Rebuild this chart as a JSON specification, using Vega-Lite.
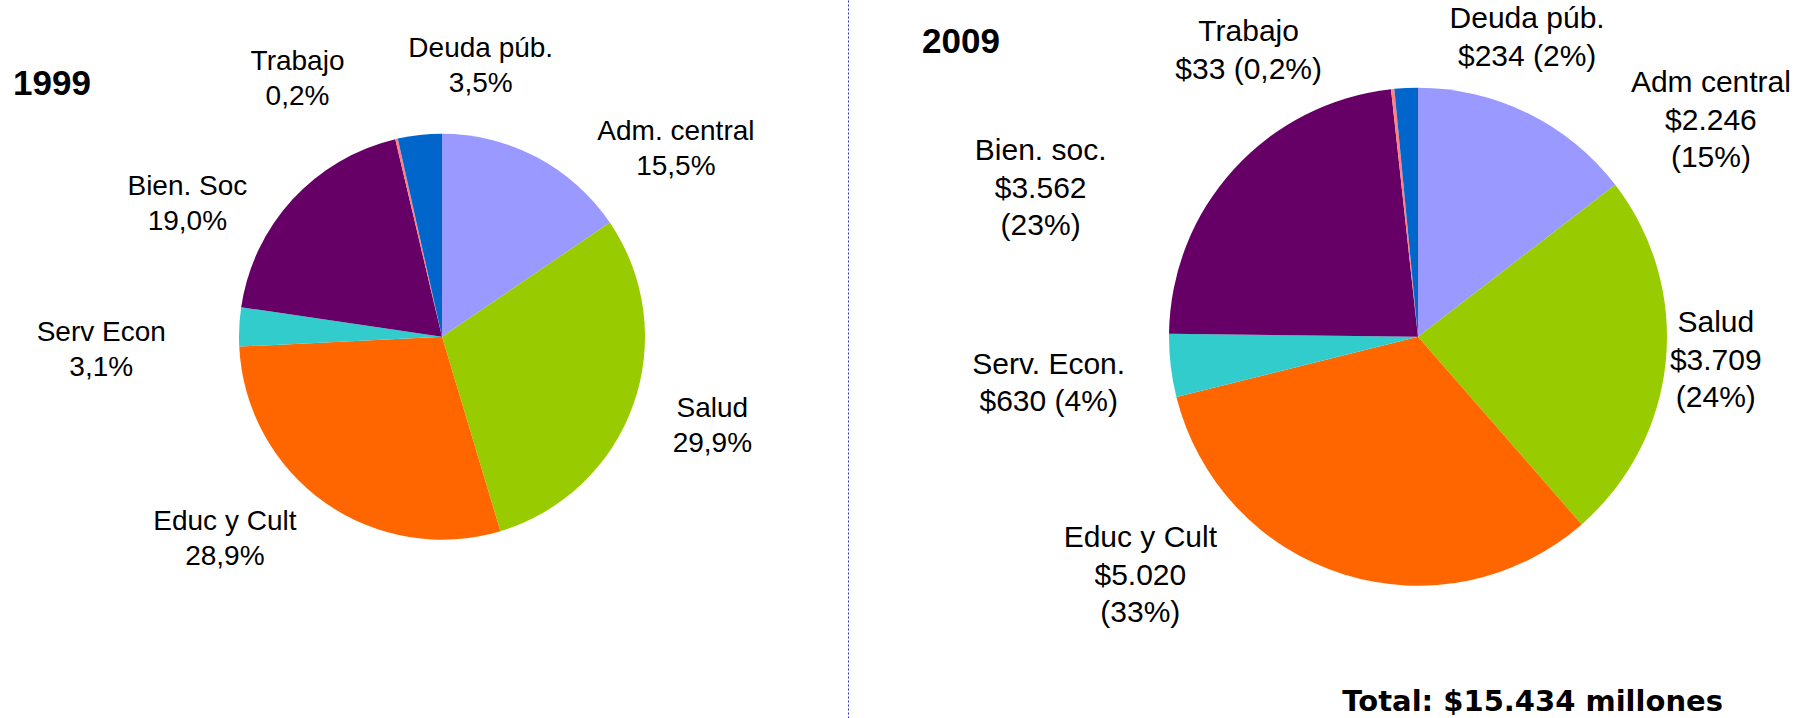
{
  "$schema": "https://vega.github.io/schema/vega-lite/v6.json",
  "width": 1800,
  "height": 718,
  "autosize": {"type": "none"},
  "padding": 0,
  "background": "white",
  "config": {"view": {"stroke": null}},
  "title": {"text": "Total: $15.434 millones", "orient": "bottom", "anchor": "end", "frame": "group", "font": "DejaVu Sans", "fontSize": 29, "fontWeight": "bold", "color": "black", "baseline": "alphabetic", "offset": -7, "dx": -77},
  "data": {"values": [
    {"year": "1999", "cat": "adm", "o": 1, "value": 15.5, "label": "Adm. central\n15,5%"},
    {"year": "1999", "cat": "salud", "o": 2, "value": 29.9, "label": "Salud\n29,9%"},
    {"year": "1999", "cat": "educ", "o": 3, "value": 28.9, "label": "Educ y Cult\n28,9%"},
    {"year": "1999", "cat": "serv", "o": 4, "value": 3.1, "label": "Serv Econ\n3,1%"},
    {"year": "1999", "cat": "bien", "o": 5, "value": 19.0, "label": "Bien. Soc\n19,0%"},
    {"year": "1999", "cat": "trab", "o": 6, "value": 0.2, "label": "Trabajo\n0,2%"},
    {"year": "1999", "cat": "deuda", "o": 7, "value": 3.5, "label": "Deuda púb.\n3,5%"},
    {"year": "2009", "cat": "adm", "o": 1, "value": 2246, "label": "Adm central\n$2.246\n(15%)"},
    {"year": "2009", "cat": "salud", "o": 2, "value": 3709, "label": "Salud\n$3.709\n(24%)"},
    {"year": "2009", "cat": "educ", "o": 3, "value": 5020, "label": "Educ y Cult\n$5.020\n(33%)"},
    {"year": "2009", "cat": "serv", "o": 4, "value": 630, "label": "Serv. Econ.\n$630 (4%)"},
    {"year": "2009", "cat": "bien", "o": 5, "value": 3562, "label": "Bien. soc.\n$3.562\n(23%)"},
    {"year": "2009", "cat": "trab", "o": 6, "value": 33, "label": "Trabajo\n$33 (0,2%)"},
    {"year": "2009", "cat": "deuda", "o": 7, "value": 234, "label": "Deuda púb.\n$234 (2%)"}
  ]},
  "encoding": {
    "x": {"field": "year", "type": "nominal",
          "scale": {"type": "band", "domain": ["1999", "2009"], "range": [36, 1824], "paddingInner": 0.16803, "paddingOuter": 0},
          "axis": {"values": ["1999"], "bandPosition": 1, "grid": true, "gridColor": "#2b2bcc", "gridDash": [2, 2], "gridWidth": 1, "domain": false, "ticks": false, "labels": false, "title": null}},
    "y": {"datum": "centro", "type": "nominal",
          "scale": {"type": "point", "domain": ["centro"], "range": [0, 718], "padding": 0, "align": 0.469},
          "axis": null}
  },
  "layer": [
    {
      "transform": [{"filter": "datum.year === '1999'"}],
      "encoding": {
        "theta": {"field": "value", "type": "quantitative", "stack": "normalize"},
        "order": {"field": "o", "type": "quantitative"}
      },
      "layer": [
        {"mark": {"type": "arc", "outerRadius": 203},
         "encoding": {"color": {"field": "cat", "type": "nominal", "legend": null,
           "scale": {"domain": ["adm", "salud", "educ", "serv", "bien", "trab", "deuda"],
                     "range": ["#9999ff", "#99cc00", "#ff6600", "#33cccc", "#660066", "#ff8080", "#0066cc"]}}}},
        {"mark": {"type": "text", "font": "Liberation Sans", "fontSize": 28, "lineHeight": 35.5, "lineBreak": "\n", "align": "center", "baseline": "alphabetic", "dx": 139, "dy": -17.5},
         "encoding": {"radius": {"value": 203}, "text": {"condition": {"test": "datum.cat === 'adm'", "field": "label"}, "value": ""}}},
        {"mark": {"type": "text", "font": "Liberation Sans", "fontSize": 28, "lineHeight": 35.5, "lineBreak": "\n", "align": "center", "baseline": "alphabetic", "dx": 79, "dy": 12},
         "encoding": {"radius": {"value": 203}, "text": {"condition": {"test": "datum.cat === 'salud'", "field": "label"}, "value": ""}}},
        {"mark": {"type": "text", "font": "Liberation Sans", "fontSize": 28, "lineHeight": 35.5, "lineBreak": "\n", "align": "center", "baseline": "alphabetic", "dx": -100, "dy": 27},
         "encoding": {"radius": {"value": 203}, "text": {"condition": {"test": "datum.cat === 'educ'", "field": "label"}, "value": ""}}},
        {"mark": {"type": "text", "font": "Liberation Sans", "fontSize": 28, "lineHeight": 35.5, "lineBreak": "\n", "align": "center", "baseline": "alphabetic", "dx": -138, "dy": 14},
         "encoding": {"radius": {"value": 203}, "text": {"condition": {"test": "datum.cat === 'serv'", "field": "label"}, "value": ""}}},
        {"mark": {"type": "text", "font": "Liberation Sans", "fontSize": 28, "lineHeight": 35.5, "lineBreak": "\n", "align": "center", "baseline": "alphabetic", "dx": -105, "dy": -5},
         "encoding": {"radius": {"value": 203}, "text": {"condition": {"test": "datum.cat === 'bien'", "field": "label"}, "value": ""}}},
        {"mark": {"type": "text", "font": "Liberation Sans", "fontSize": 28, "lineHeight": 35.5, "lineBreak": "\n", "align": "center", "baseline": "alphabetic", "dx": -99, "dy": -69},
         "encoding": {"radius": {"value": 203}, "text": {"condition": {"test": "datum.cat === 'trab'", "field": "label"}, "value": ""}}},
        {"mark": {"type": "text", "font": "Liberation Sans", "fontSize": 28, "lineHeight": 35.5, "lineBreak": "\n", "align": "center", "baseline": "alphabetic", "dx": 61, "dy": -78},
         "encoding": {"radius": {"value": 203}, "text": {"condition": {"test": "datum.cat === 'deuda'", "field": "label"}, "value": ""}}}
      ]
    },
    {
      "transform": [{"filter": "datum.year === '2009'"}],
      "encoding": {
        "theta": {"field": "value", "type": "quantitative", "stack": "normalize"},
        "order": {"field": "o", "type": "quantitative"}
      },
      "layer": [
        {"mark": {"type": "arc", "outerRadius": 249},
         "encoding": {"color": {"field": "cat", "type": "nominal", "legend": null,
           "scale": {"domain": ["adm", "salud", "educ", "serv", "bien", "trab", "deuda"],
                     "range": ["#9999ff", "#99cc00", "#ff6600", "#33cccc", "#660066", "#ff8080", "#0066cc"]}}}},
        {"mark": {"type": "text", "font": "Liberation Sans", "fontSize": 30, "lineHeight": 37.5, "lineBreak": "\n", "align": "center", "baseline": "alphabetic", "dx": 183, "dy": -21},
         "encoding": {"radius": {"value": 249}, "text": {"condition": {"test": "datum.cat === 'adm'", "field": "label"}, "value": ""}}},
        {"mark": {"type": "text", "font": "Liberation Sans", "fontSize": 30, "lineHeight": 37.5, "lineBreak": "\n", "align": "center", "baseline": "alphabetic", "dx": 50, "dy": -29},
         "encoding": {"radius": {"value": 249}, "text": {"condition": {"test": "datum.cat === 'salud'", "field": "label"}, "value": ""}}},
        {"mark": {"type": "text", "font": "Liberation Sans", "fontSize": 30, "lineHeight": 37.5, "lineBreak": "\n", "align": "center", "baseline": "alphabetic", "dx": -203, "dy": -27},
         "encoding": {"radius": {"value": 249}, "text": {"condition": {"test": "datum.cat === 'educ'", "field": "label"}, "value": ""}}},
        {"mark": {"type": "text", "font": "Liberation Sans", "fontSize": 30, "lineHeight": 37.5, "lineBreak": "\n", "align": "center", "baseline": "alphabetic", "dx": -122, "dy": 8},
         "encoding": {"radius": {"value": 249}, "text": {"condition": {"test": "datum.cat === 'serv'", "field": "label"}, "value": ""}}},
        {"mark": {"type": "text", "font": "Liberation Sans", "fontSize": 30, "lineHeight": 37.5, "lineBreak": "\n", "align": "center", "baseline": "alphabetic", "dx": -193, "dy": -9},
         "encoding": {"radius": {"value": 249}, "text": {"condition": {"test": "datum.cat === 'bien'", "field": "label"}, "value": ""}}},
        {"mark": {"type": "text", "font": "Liberation Sans", "fontSize": 30, "lineHeight": 37.5, "lineBreak": "\n", "align": "center", "baseline": "alphabetic", "dx": -144, "dy": -48},
         "encoding": {"radius": {"value": 249}, "text": {"condition": {"test": "datum.cat === 'trab'", "field": "label"}, "value": ""}}},
        {"mark": {"type": "text", "font": "Liberation Sans", "fontSize": 30, "lineHeight": 37.5, "lineBreak": "\n", "align": "center", "baseline": "alphabetic", "dx": 121, "dy": -60},
         "encoding": {"radius": {"value": 249}, "text": {"condition": {"test": "datum.cat === 'deuda'", "field": "label"}, "value": ""}}}
      ]
    },
    {
      "transform": [{"aggregate": [{"op": "count", "as": "n"}], "groupby": ["year"]}, {"filter": "datum.year === '1999'"}],
      "mark": {"type": "text", "font": "Liberation Sans", "fontSize": 35, "fontWeight": "bold", "align": "center", "baseline": "alphabetic", "dx": -390, "dy": -242},
      "encoding": {"text": {"field": "year"}}
    },
    {
      "transform": [{"aggregate": [{"op": "count", "as": "n"}], "groupby": ["year"]}, {"filter": "datum.year === '2009'"}],
      "mark": {"type": "text", "font": "Liberation Sans", "fontSize": 35, "fontWeight": "bold", "align": "center", "baseline": "alphabetic", "dx": -457, "dy": -284},
      "encoding": {"text": {"field": "year"}}
    }
  ]
}
